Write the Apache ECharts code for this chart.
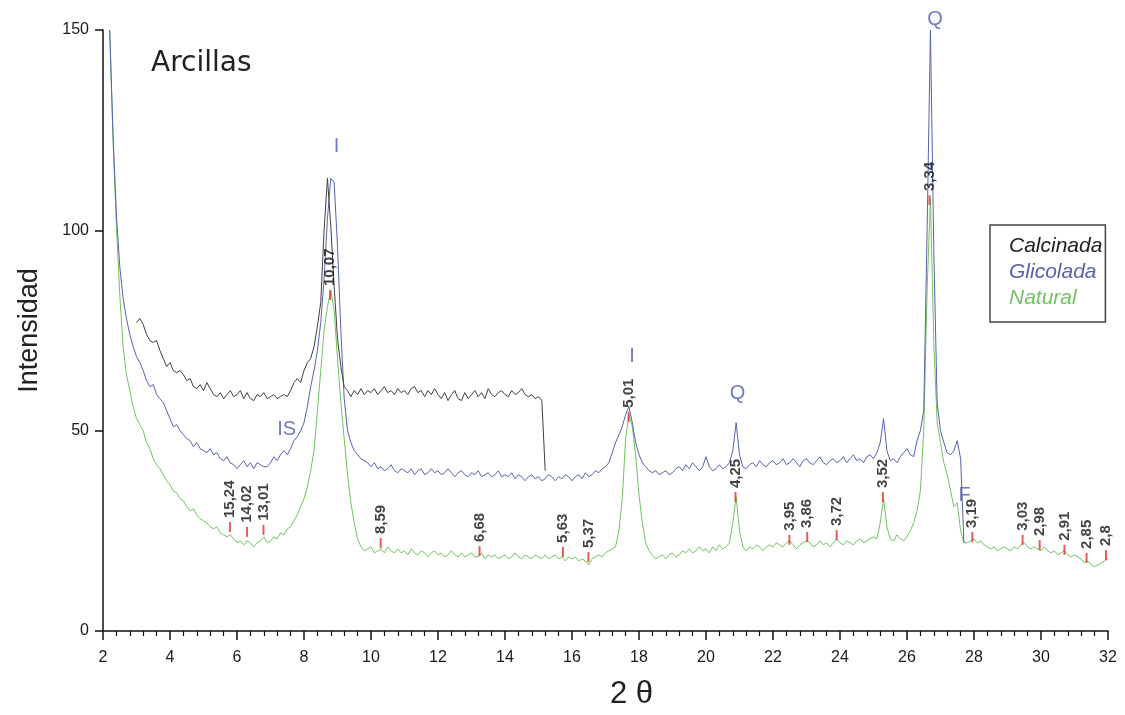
<!DOCTYPE html>
<html>
<head>
<meta charset="utf-8">
<title>Arcillas</title>
<script src="https://cdn.jsdelivr.net/npm/echarts@6/dist/echarts.min.js"></script>
<style>
  html, body { margin: 0; padding: 0; background: #ffffff; }
  #chart { width: 1125px; height: 715px; }
</style>
</head>
<body>
<div id="chart"></div>
<script>
// X-ray diffraction scans of the clay fraction, sampled every 0.1 degrees 2-theta.
const STEP = 0.1;

// Natural sample, 2.2 .. 32.0
const naturalStart = 2.2;
const naturalValues = [
  150, 122, 101, 84, 71, 64, 60, 56,
  53, 51.5, 50, 47, 45.5, 43, 41.5, 40.5, 39, 37.5,
  36.5, 35, 34.5, 33, 32.5, 31, 30, 30.5, 29, 28,
  27.5, 27, 26, 25.5, 26, 24.5, 24, 23.5, 24, 23,
  22, 22.5, 21.5, 22.5, 22, 21, 22, 22.5, 23.5, 22,
  22.5, 23.5, 23, 24.5, 24, 25.5, 26, 27.5, 29, 31,
  33, 36, 40, 45, 55, 65, 75, 81, 85, 80,
  68, 57, 48, 39, 32, 27, 23, 21, 20, 20.5,
  21, 19.5, 20, 20.5, 19.5, 21, 20, 19.5, 20.5, 19.5,
  20, 19, 20.5, 19.5, 19, 20, 19.5, 18.5, 19.5, 20,
  19, 19.5, 18.5, 19, 20, 19, 18.5, 19.5, 18.5, 19,
  19.5, 18.5, 18.5, 19.5, 18, 19, 18.5, 19, 18, 18.5,
  19, 18, 18.5, 19.5, 18.5, 18, 19, 18.5, 18, 19,
  18.5, 18, 19, 18, 18.5, 19, 18, 18.5, 17.5, 18.5,
  18, 18.5, 17.5, 18, 17.5, 16.5, 18, 18.5, 19, 18.5,
  19.5, 20, 20.5, 21, 25, 33, 48, 54, 51, 44,
  34, 27, 22, 20, 19, 18, 18.5, 19, 18, 19,
  19.5, 18.5, 19, 20, 19.5, 20.5, 19.5, 20, 21, 20,
  20.5, 19.5, 21, 20, 21.5, 20.5, 21, 22, 27, 33.5,
  25, 21, 20, 21, 20.5, 21.5, 21, 20, 21, 21.5,
  21, 22, 21.5, 21, 22, 22.5, 21.5, 20.5, 21.5, 22,
  22.5, 22, 21, 21.5, 22.5, 21.5, 22, 21, 22, 23,
  22, 21.5, 22.5, 22, 21.5, 22.5, 23, 22, 22.5, 23,
  23.5, 23, 27, 33, 26, 23, 22.5, 24, 23, 22.5,
  23.5, 25, 27, 30, 35, 50, 85, 108, 72, 52,
  47, 42, 39, 35, 31, 32, 25, 22, 22, 22.5,
  23, 22, 22.5, 21.5, 21, 20.5, 21, 20, 20.5, 21,
  20.5, 20, 21, 20.5, 21.5, 22, 21, 20.5, 21, 20.5,
  20, 21, 20, 19.5, 20, 19, 19.5, 20, 19, 18.5,
  19, 18.5, 18, 17, 17.5, 16.5, 16, 16.5, 17, 17.5,
  18
];

// Glycolated sample, 2.2 .. 27.7
const glicoladaStart = 2.2;
const glicoladaValues = [
  150, 124, 104, 91, 83, 78, 74, 71,
  68.5, 67, 65, 62.5, 61, 61.5, 59, 58, 57, 55,
  53, 51, 51.5, 50, 49, 48, 47.5, 46, 47, 45.5,
  45, 44.5, 45.5, 44, 44.5, 43, 42.5, 43.5, 42, 41.5,
  40.5, 41.5, 42.5, 41, 42, 40.5, 42, 41.5, 41, 41,
  42, 43.5, 42.5, 44, 45, 44, 45.5, 47.5, 48.5, 50,
  52, 56, 61, 65, 70, 77, 88, 103, 113, 112,
  96, 75, 58, 50, 47, 45, 44, 43, 42.5, 42,
  41, 42, 40.5, 41, 40, 40.5, 41.5, 40, 39.5, 40.5,
  40, 39.5, 40.5, 39, 40, 40.5, 39, 39.5, 40.5, 39.5,
  40, 39, 39.5, 40.5, 39.5, 38.5, 39.5, 40, 39, 38.5,
  39.5, 39, 40, 38.5, 39, 39.5, 38.5, 39, 40, 38.5,
  39, 38.5, 39.5, 38, 39, 38.5, 37.5, 38.5, 39, 38,
  38.5, 37.5, 38, 39, 38.5, 37.5, 38.5, 38, 39, 38.5,
  37.5, 38.5, 39, 38, 39.5, 38.5, 39, 40, 39.5, 40.5,
  41, 42, 44.5, 47, 49, 51, 54, 56, 52, 47,
  44, 42, 41, 40, 39.5, 40, 39, 39.5, 40, 39,
  39.5, 40.5, 41, 40, 41.5, 40.5, 42, 41, 40, 41,
  43.5, 41, 40, 40.5, 41.5, 40.5, 41, 42, 45, 52,
  44, 41, 40.5, 41.5, 42, 41, 42.5, 41.5, 41, 42,
  42.5, 41.5, 42, 43, 41.5, 42, 43, 42, 41, 42.5,
  43, 42, 41.5, 42.5, 43.5, 42, 41.5, 42.5, 43, 42,
  42.5, 43.5, 42, 43, 44, 42.5, 43, 42, 43.5, 44,
  43, 44.5, 47, 53, 45, 42.5, 43, 42, 43.5, 44.5,
  45.5, 44, 43.5, 47.5, 50, 55, 100, 150, 95, 57,
  50, 47, 44.5, 44, 45, 47.5, 43, 22
];

// Calcined sample, 3.0 .. 15.2
const calcinadaStart = 3.0;
const calcinadaValues = [
  77, 78, 76.5, 74, 72.5, 72, 72.5, 70, 68, 66,
  67, 65, 64.5, 65, 64, 62.5, 63, 61, 60.5, 61.5,
  60, 62, 60.5, 59, 58.5, 59.5, 58, 59, 60, 58.5,
  59, 60, 58, 59.5, 58, 57.5, 59, 58.5, 59.5, 58,
  58.5, 59, 58, 58.5, 59, 58.5, 60, 62, 63, 62,
  65, 67, 68, 71, 76, 82, 100, 113, 101, 86,
  73, 66, 61, 60, 58.5, 60, 59, 60.5, 59, 60,
  59.5, 60.5, 59, 60, 61, 59.5, 60, 59, 60.5, 59.5,
  60, 59, 60.5, 61, 59.5, 60, 58.5, 60, 59, 60.5,
  59, 58, 59.5, 57.5, 59, 60, 58, 57.5, 59.5, 58,
  59, 60, 58.5, 59.5, 58, 60.5, 59, 58.5, 59.5, 60,
  59, 58.5, 60, 59, 59.5, 60.5, 59, 58.5, 59, 58,
  58.5, 57.5, 40
];

// Identified reflections on the natural scan: 2-theta, intensity at the mark, d-spacing (Å)
const peakTwoTheta = [5.79, 6.30, 6.79, 8.78, 10.29, 13.24, 15.73, 16.49, 17.69, 20.88, 22.49,
                      23.02, 23.90, 25.28, 26.67, 27.95, 29.45, 29.96, 30.70, 31.36, 31.94];
const peakIntensity = [24.7, 23.5, 24.0, 82.6, 20.7, 18.7, 18.5, 17.2, 52.2, 32.2, 21.5,
                       22.2, 22.7, 32.2, 106.3, 22.2, 21.5, 20.2, 19.0, 17.0, 17.7];
const peakDSpacing = ['15,24', '14,02', '13,01', '10,07', '8,59', '6,68', '5,63', '5,37', '5,01', '4,25', '3,95',
                      '3,86', '3,72', '3,52', '3,34', '3,19', '3,03', '2,98', '2,91', '2,85', '2,8'];

// Mineral phase letters: I illite, IS illite-smectite, Q quartz, F feldspar
const phaseNames = ['I', 'IS', 'I', 'Q', 'Q', 'F'];
const phaseTwoTheta = [8.97, 7.48, 17.79, 20.94, 26.84, 27.72];
const phaseIntensity = [120.9, 50.4, 68.4, 59.2, 152.6, 33.7];

const xTicks = { min: 2, max: 32, interval: 2 };
const yTicks = { min: 0, max: 150, interval: 50 };

const COLORS = { calcinada: '#404040', glicolada: '#5862ad', natural: '#72c262', mark: '#e0342c', phase: '#4f5aa8' };

function toPairs(start, values) {
  return values.map((v, i) => [Math.round((start + i * STEP) * 100) / 100, v]);
}

const chart = echarts.init(document.getElementById('chart'));

chart.setOption({
  animation: false,
  backgroundColor: '#ffffff',
  textStyle: { fontFamily: 'Liberation Sans, Arial, sans-serif' },
  grid: { left: 103, right: 17, top: 30, bottom: 84 },
  title: {
    text: 'Arcillas',
    left: 146, top: 45,
    textStyle: { fontFamily: 'DejaVu Sans', fontSize: 28, fontWeight: 'normal', color: '#222' }
  },
  legend: {
    orient: 'vertical',
    left: 990, top: 225,
    padding: [11, 3, 13, 13],
    itemGap: 5,
    itemWidth: 0, itemHeight: 0,
    borderColor: '#444', borderWidth: 1.5,
    itemStyle: { opacity: 0 }, lineStyle: { opacity: 0 },
    selectedMode: false,
    textStyle: { fontSize: 21, fontStyle: 'italic' },
    data: [
      { name: 'Calcinada', textStyle: { color: '#222' } },
      { name: 'Glicolada', textStyle: { color: COLORS.glicolada } },
      { name: 'Natural', textStyle: { color: COLORS.natural } }
    ]
  },
  xAxis: {
    type: 'value',
    min: xTicks.min, max: xTicks.max, interval: xTicks.interval,
    name: '2 θ',
    nameLocation: 'middle', nameGap: 48,
    nameTextStyle: {
      fontSize: 31, fontFamily: 'Liberation Sans', color: '#222', padding: [0, 0, 0, 52]
    },
    axisLine: { show: true, onZero: false, lineStyle: { color: '#111', width: 1.5 } },
    axisTick: { show: true, length: 9, lineStyle: { color: '#111', width: 1.5 } },
    minorTick: { show: true, splitNumber: 5, length: 5, lineStyle: { color: '#111', width: 1.2 } },
    axisLabel: { fontSize: 16, color: '#1a1a1a', margin: 19 },
    splitLine: { show: false }
  },
  yAxis: {
    type: 'value',
    min: yTicks.min, max: yTicks.max, interval: yTicks.interval,
    name: 'Intensidad',
    nameLocation: 'middle', nameGap: 60,
    nameTextStyle: { fontSize: 27, color: '#222' },
    axisLine: { show: true, lineStyle: { color: '#111', width: 1.5 } },
    axisTick: { show: true, length: 8, lineStyle: { color: '#111', width: 1.5 } },
    axisLabel: { fontSize: 16, color: '#1a1a1a', margin: 14 },
    splitLine: { show: false }
  },
  series: [
    {
      name: 'Natural', type: 'line', showSymbol: false, symbol: 'none',
      data: toPairs(naturalStart, naturalValues),
      lineStyle: { color: COLORS.natural, width: 1 }, itemStyle: { color: COLORS.natural },
      z: 2
    },
    {
      name: 'Glicolada', type: 'line', showSymbol: false, symbol: 'none',
      data: toPairs(glicoladaStart, glicoladaValues),
      lineStyle: { color: COLORS.glicolada, width: 1 }, itemStyle: { color: COLORS.glicolada },
      z: 3
    },
    {
      name: 'Calcinada', type: 'line', showSymbol: false, symbol: 'none',
      data: toPairs(calcinadaStart, calcinadaValues),
      lineStyle: { color: COLORS.calcinada, width: 1 }, itemStyle: { color: COLORS.calcinada },
      z: 4
    },
    {
      name: 'reflexiones', type: 'scatter',
      symbol: 'rect', symbolSize: [2, 10], symbolOffset: [0, '-50%'],
      itemStyle: { color: COLORS.mark },
      clip: false, silent: true, z: 6,
      data: peakTwoTheta.map((x, i) => ({ name: peakDSpacing[i], value: [x, peakIntensity[i]] })),
      label: {
        show: true, position: 'top', distance: 4, rotate: 90,
        align: 'left', verticalAlign: 'middle',
        formatter: p => p.name,
        fontSize: 15, fontWeight: 'bold', color: '#111'
      }
    },
    {
      name: 'fases', type: 'scatter', symbolSize: 0,
      clip: false, silent: true, z: 7,
      data: phaseNames.map((n, i) => ({ name: n, value: [phaseTwoTheta[i], phaseIntensity[i]] })),
      label: {
        show: true, position: 'inside', formatter: p => p.name,
        fontSize: 20, color: COLORS.phase
      }
    }
  ]
});
</script>
</body>
</html>
